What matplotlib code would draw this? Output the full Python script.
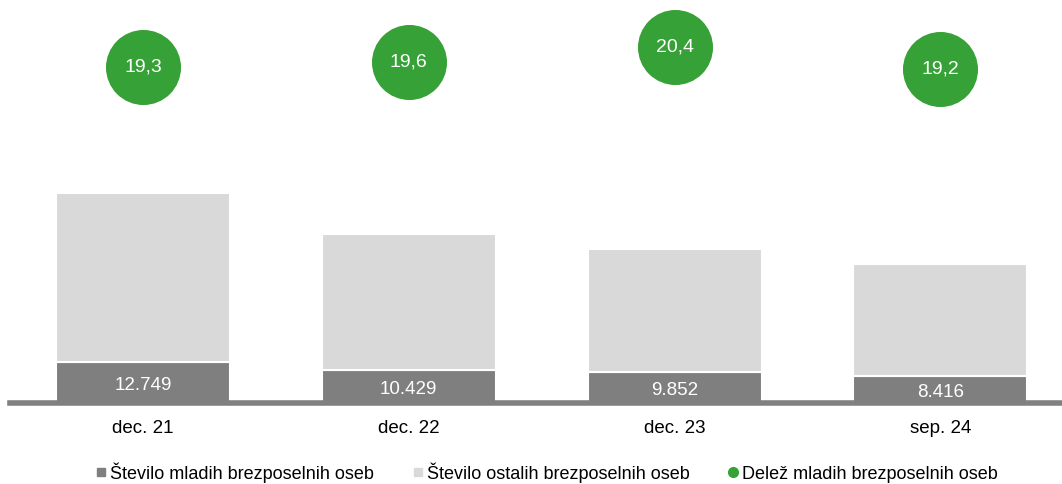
import numpy as np
import matplotlib
matplotlib.use('Agg')
import matplotlib.pyplot as plt
from matplotlib.lines import Line2D

plt.rcParams['font.family'] = ['Liberation Sans', 'DejaVu Sans']

# data
periods = ['dec. 21', 'dec. 22', 'dec. 23', 'sep. 24']
young = [12749, 10429, 9852, 8416]          # število mladih brezposelnih oseb
others = [53308, 42780, 38442, 35417]       # število ostalih brezposelnih oseb
share = [19.3, 19.6, 20.4, 19.2]            # delež mladih [%]

c_young = '#7f7f7f'
c_other = '#d9d9d9'
c_share = '#36a136'

fig = plt.figure(figsize=(10.62, 4.84), dpi=100)
ax = fig.add_axes([10/1062, 81/484, 1050/1062, 381.6/484])
x = np.arange(len(periods))
w = 0.655

ax.bar(x, young, w, color=c_young, edgecolor='white', linewidth=1.5)
ax.bar(x, others, w, bottom=young, color=c_other, edgecolor='white', linewidth=1.5)
for xi, v in zip(x, young):
    ax.text(xi, v/2 - 900, f'{v:,}'.replace(',', '.'), ha='center', va='center',
            color='white', fontsize=13.5)

ax.set_xlim(-0.5, 3.45)
ax.set_ylim(0, 120000)
ax.axhline(0, color='#808080', lw=4, clip_on=False, zorder=5)
for s in ax.spines.values():
    s.set_visible(False)
ax.set_yticks([])
ax.set_xticks(x)
ax.set_xticklabels(periods, fontsize=13.5)
ax.tick_params(axis='x', length=0, pad=12)

ax2 = ax.twinx()
ax2.set_ylim(0.95, 21.8)
ax2.plot(x, share, 'o', color=c_share, markersize=53, linestyle='none', clip_on=False)
for xi, v in zip(x, share):
    ax2.text(xi, v, f'{v:.1f}'.replace('.', ','), ha='center', va='center',
             color='white', fontsize=14)
ax2.set_yticks([])
for s in ax2.spines.values():
    s.set_visible(False)

handles = [
    Line2D([], [], marker='s', color=c_young, linestyle='none', markersize=6),
    Line2D([], [], marker='s', color=c_other, linestyle='none', markersize=6),
    Line2D([], [], marker='o', color=c_share, linestyle='none', markersize=7),
]
labels = ['Število mladih brezposelnih oseb', 'Število ostalih brezposelnih oseb',
          'Delež mladih brezposelnih oseb']
fig.legend(handles, labels, loc='center', bbox_to_anchor=(0.514, 0.024), ncol=3,
           frameon=False, fontsize=13, handletextpad=0.1, columnspacing=2.0,
           handlelength=0.8)

fig.savefig('out.png', dpi=100)
